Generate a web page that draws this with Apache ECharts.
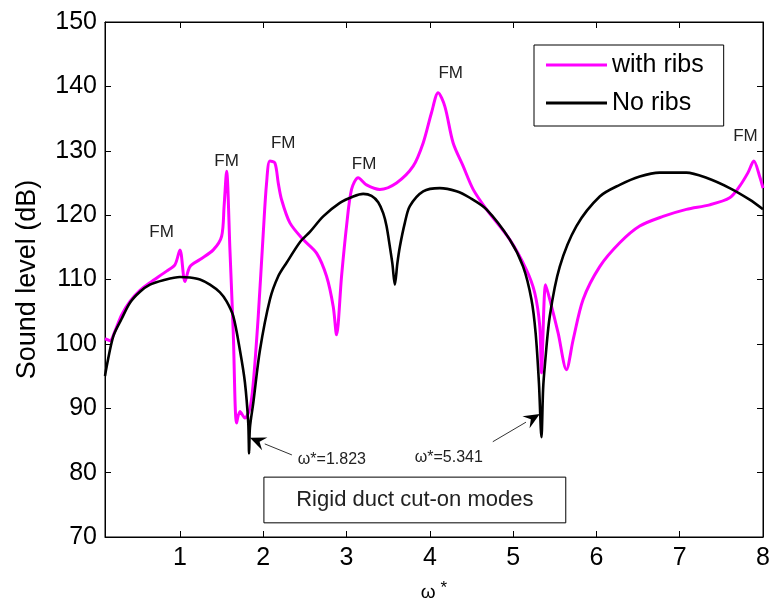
<!DOCTYPE html>
<html>
<head>
<meta charset="utf-8">
<script src="https://cdn.jsdelivr.net/npm/echarts@6/dist/echarts.min.js"></script>
<style>html,body{margin:0;padding:0;background:#fff}#c{width:770px;height:601px}</style>
</head>
<body>
<div id="c"></div>
<script>
// ---- data ----
const ribsX = [0.1,0.16,0.22,0.3,0.4,0.52,0.64,0.84,0.94,1.0,1.06,1.12,1.24,1.4,1.5,1.53,1.56,1.6,1.64,1.68,1.72,1.78,1.84,1.88,1.94,2.0,2.04,2.08,2.14,2.18,2.22,2.32,2.48,2.64,2.76,2.84,2.88,2.94,3.0,3.06,3.14,3.24,3.4,3.6,3.8,3.92,4.02,4.1,4.18,4.28,4.4,4.52,4.68,4.96,5.16,5.26,5.32,5.34,5.39,5.44,5.54,5.64,5.72,5.84,6.04,6.28,6.52,6.8,7.08,7.36,7.6,7.72,7.82,7.89,7.96,8.0];
const ribsY = [100.8,100.5,102,104.5,106.6,108.3,109.5,111.3,112.3,114.6,109.7,112,113.1,114.6,116.7,121.4,126.8,114.6,101.7,87.7,89.5,88.5,90,93.9,104.3,117.2,125,128.4,128.1,125,122.4,118.8,116.2,114.1,110.5,105.8,101.4,110.5,118.3,124,125.8,124.7,124,125,127.6,131.2,135.9,139,136.9,131.2,127.6,124,120.9,116.2,111.5,107.9,102.7,95.5,109.2,106.9,101.7,96,100.6,106.9,112,115.7,118.3,119.8,120.9,121.6,122.7,124.5,126.6,128.4,126,124.2];
const noRibsX = [0.1,0.12,0.2,0.3,0.4,0.52,0.64,0.8,1.0,1.12,1.24,1.36,1.48,1.56,1.64,1.72,1.78,1.82,1.83,1.84,1.88,1.96,2.08,2.18,2.28,2.44,2.56,2.72,2.92,3.08,3.2,3.3,3.38,3.44,3.48,3.52,3.55,3.58,3.61,3.64,3.7,3.76,3.92,4.12,4.32,4.48,4.68,4.96,5.12,5.22,5.27,5.31,5.34,5.36,5.38,5.44,5.56,5.76,6.04,6.28,6.52,6.76,7.08,7.32,7.6,7.84,8.0];
const noRibsY = [95,96.5,101.2,103.9,106.4,108.1,109.2,109.9,110.4,110.3,110,109.2,108,106.6,104.3,99,94,87.7,83,87,90.8,99,106.9,110.5,112.6,115.8,117.4,119.8,121.9,122.9,123.3,123.0,122.0,120.3,118.3,115.1,112.5,109.2,112.5,115.1,118.8,121.4,123.7,124.2,123.7,122.7,120.9,116.2,112,106.9,101.7,93.9,85.5,93,96.5,104.3,112,118.3,122.9,124.7,126,126.6,126.6,125.8,124.2,122.4,120.9];
const xTicks = [1,2,3,4,5,6,7,8];
const seriesNames = ['with ribs','No ribs'];
// annotations in data units
const fmLabels = [[0.78,117.3],[1.56,128.3],[2.24,131.1],[3.21,127.9],[4.25,142],[7.79,132.2]];
const cutOn = [
  {text:'ω*=1.823', at:[2.824,82.0], tail:[2.344,82.75], tip:[1.84,85.4]},
  {text:'ω*=5.341', at:[4.228,82.3], tail:[4.756,84.8], tip:[5.32,89.1]}
];
const boxText = 'Rigid duct cut-on modes';
const boxRange = [[2.008,79.3],[5.632,72.2]];

const pair = (xs, ys) => xs.map((x,i)=>[x, ys[i]]);
const FONT = '"Liberation Sans", Arial, sans-serif';

const chart = echarts.init(document.getElementById('c'), null, {renderer:'canvas'});
const axisCommon = {
  axisLine:{show:true, lineStyle:{color:'#000', width:1}},
  splitLine:{show:false}
};
chart.setOption({
  animation:false,
  backgroundColor:'#fff',
  grid:{left:105, right:7, top:22, bottom:64, show:true, borderColor:'#000', borderWidth:1,
    containLabel:false, outerBoundsMode:'none'},
  legend:{
    orient:'vertical', left:534, top:45,
    padding:[7,20,10,12], itemGap:12, itemWidth:61, itemHeight:3, icon:'rect',
    borderColor:'#000', borderWidth:1, backgroundColor:'#fff',
    textStyle:{fontFamily:FONT, fontSize:25, color:'#000', lineHeight:26},
    data:seriesNames
  },
  xAxis:[
    Object.assign({type:'value', min:0.1, max:8, position:'bottom',
      name:'{w|ω} {s|*}', nameLocation:'middle', nameGap:38,
      nameTextStyle:{fontFamily:FONT, fontSize:18, color:'#000',
        rich:{w:{fontFamily:FONT, fontSize:19, color:'#000', padding:[8,0,0,0]}, s:{fontFamily:FONT, fontSize:17, color:'#000'}}},
      axisTick:{show:true, inside:true, length:6, customValues:xTicks, lineStyle:{color:'#000'}},
      axisLabel:{show:true, customValues:xTicks, margin:9, fontFamily:FONT, fontSize:25, color:'#000'}
    }, axisCommon),
    Object.assign({type:'value', min:0.1, max:8, position:'top',
      axisTick:{show:true, inside:true, length:6, customValues:xTicks.slice(0,7), lineStyle:{color:'#000'}},
      axisLabel:{show:false}
    }, axisCommon)
  ],
  yAxis:[
    Object.assign({type:'value', min:70, max:150, interval:10, position:'left',
      name:'Sound level (dB)', nameLocation:'middle', nameGap:64,
      nameTextStyle:{fontFamily:FONT, fontSize:27, color:'#000'},
      axisTick:{show:true, inside:true, length:6, lineStyle:{color:'#000'}},
      axisLabel:{show:true, margin:8, fontFamily:FONT, fontSize:25, color:'#000'}
    }, axisCommon),
    Object.assign({type:'value', min:70, max:150, interval:10, position:'right',
      axisTick:{show:true, inside:true, length:6, lineStyle:{color:'#000'}},
      axisLabel:{show:false}
    }, axisCommon)
  ],
  series:[
    {name:seriesNames[0], type:'line', data:pair(ribsX, ribsY), showSymbol:false, symbol:'none',
     smooth:0.3, lineStyle:{color:'#ff00ff', width:3}, itemStyle:{color:'#ff00ff'}, z:2},
    {name:seriesNames[1], type:'line', data:pair(noRibsX, noRibsY), showSymbol:false, symbol:'none',
     smooth:0.3, lineStyle:{color:'#000', width:2.6}, itemStyle:{color:'#000'}, z:3}
  ]
});

const px = p => chart.convertToPixel({gridIndex:0}, p);
const g = [];
fmLabels.forEach(p => {
  const q = px(p);
  g.push({type:'text', x:q[0], y:q[1], z:10,
    style:{text:'FM', fontFamily:FONT, fontSize:17, fill:'#222', align:'center', verticalAlign:'middle'}});
});
cutOn.forEach(a => {
  const t = px(a.at), tl = px(a.tail), tp = px(a.tip);
  g.push({type:'text', x:t[0], y:t[1], z:10,
    style:{text:a.text, fontFamily:FONT, fontSize:16, fill:'#222', align:'center', verticalAlign:'middle'}});
  const dx = tp[0]-tl[0], dy = tp[1]-tl[1], L = Math.hypot(dx,dy);
  const ux = dx/L, uy = dy/L, nx = -uy, ny = ux;
  const hl = 16, hw = 7;
  const bx = tp[0]-ux*hl, by = tp[1]-uy*hl;
  g.push({type:'line', z:10, shape:{x1:tl[0], y1:tl[1], x2:bx, y2:by}, style:{stroke:'#333', lineWidth:1}});
  g.push({type:'polygon', z:10, shape:{points:[[tp[0],tp[1]],[bx+nx*hw, by+ny*hw],[tp[0]-ux*hl*0.65, tp[1]-uy*hl*0.65],[bx-nx*hw, by-ny*hw]]},
    style:{fill:'#000'}});
});
const b1 = px(boxRange[0]), b2 = px(boxRange[1]);
g.push({type:'rect', z:10, shape:{x:b1[0], y:b1[1], width:b2[0]-b1[0], height:b2[1]-b1[1]},
  style:{fill:'#fff', stroke:'#000', lineWidth:1}});
g.push({type:'text', z:11, x:(b1[0]+b2[0])/2, y:(b1[1]+b2[1])/2,
  style:{text:boxText, fontFamily:FONT, fontSize:22, fill:'#222', align:'center', verticalAlign:'middle'}});
chart.setOption({graphic:g});
</script>
</body>
</html>
